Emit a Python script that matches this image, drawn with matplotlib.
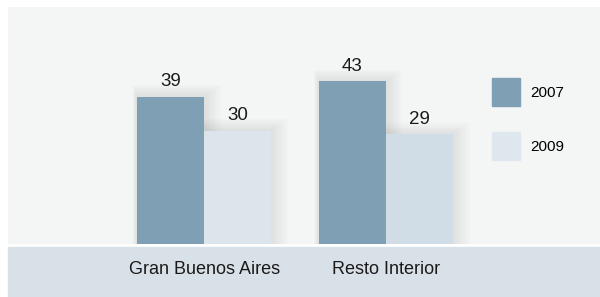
import numpy as np
import matplotlib.pyplot as plt
from matplotlib.patches import Rectangle

plt.rcParams['font.family'] = ['Liberation Sans', 'DejaVu Sans']

categorias = ['Gran Buenos Aires', 'Resto Interior']
series = ['2007', '2009']
valores_2007 = [39, 43]
valores_2009 = [30, 29]

c2007 = '#7f9fb5'
c2009 = ['#dde5ec', '#d0dde7']

fig = plt.figure(figsize=(6, 2.97), dpi=100)
fig.patch.set_facecolor('white')

# banda inferior (detras de los ejes)
fig.patches.append(Rectangle((8 / 600, 0), 592 / 600, 50 / 297,
                             transform=fig.transFigure, color='#d9e1e8', zorder=-1))

ax = fig.add_axes([8 / 600, 53 / 297, 592 / 600, 237 / 297])
ax.set_facecolor('#f4f5f5')
for s in ax.spines.values():
    s.set_visible(False)

x = np.arange(len(categorias))
w = 0.369
b1 = ax.bar(x - w / 2, valores_2007, w, color=c2007, zorder=3)
b2 = ax.bar(x + w / 2, valores_2009, w, color=c2009, zorder=3)

# sombra suave detras de las barras
for bars in (b1, b2):
    for r in bars:
        for k in range(1, 8):
            d = k * 0.012
            ax.add_patch(Rectangle((r.get_x() - d * 0.3, 0), r.get_width() + d * 1.4,
                                   r.get_height() + k * 0.45, color='black',
                                   alpha=0.012, lw=0, zorder=2))

ax.bar_label(b1, padding=4.5, fontsize=13.5, color='#1a1a1a')
ax.bar_label(b2, padding=4.5, fontsize=13.5, color='#1a1a1a')

ax.set_xlim(-1.08, 2.18)
ax.set_ylim(0, 237 / 3.78)
ax.set_yticks([])
ax.set_xticks(x)
ax.set_xticklabels(categorias, fontsize=13, color='#1a1a1a')
ax.tick_params(axis='x', length=0, pad=12)

handles = [Rectangle((0, 0), 1, 1, color=c2007),
           Rectangle((0, 0), 1, 1, color='#dfe7ee')]
ax.legend(handles, series, loc='upper left', frameon=False, fontsize=11,
          bbox_to_anchor=(492 / 600, 1 - 78 / 297), bbox_transform=fig.transFigure,
          borderpad=0, borderaxespad=0, handlelength=1.83, handleheight=2.44,
          handletextpad=0.65, labelspacing=1.7)

fig.savefig('out.png', dpi=100)
